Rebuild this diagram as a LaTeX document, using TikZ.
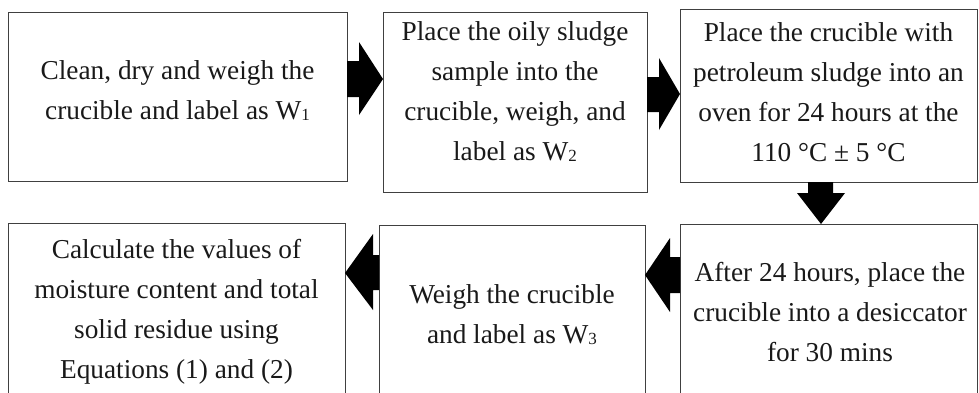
\documentclass[tikz,border=0pt]{standalone}
\usepackage{fontspec}
\setmainfont{Liberation Serif}
\usetikzlibrary{calc}
\tikzset{
  box/.style={draw=black!75, line width=1pt, inner sep=0pt, outer sep=0pt, fill=white},
  txt/.style={align=center, inner sep=0pt, font=\fontsize{27.3}{40}\selectfont, text=black!90},
  blockarrow/.style={fill=black}
}
\newcommand{\subdig}[1]{{\fontsize{17}{17}\selectfont\raisebox{-1pt}{#1}}}
\begin{document}
\begin{tikzpicture}[x=1pt,y=-1pt]
\useasboundingbox (0,0) rectangle (979,392);
\begin{scope}
\clip (0,0) rectangle (979,392);
% boxes
\node[box, minimum width=339pt, minimum height=169pt] (b1) at (177.5,96.5) {};
\node[box, minimum width=264pt, minimum height=180pt] (b2) at (515,102) {};
\node[box, minimum width=297pt, minimum height=173pt] (b3) at (828.5,95.5) {};
\node[box, minimum width=297pt, minimum height=175pt] (b4) at (828.5,311.5) {};
\node[box, minimum width=266pt, minimum height=174pt] (b5) at (512,312) {};
\node[box, minimum width=337pt, minimum height=176pt] (b6) at (176.5,311) {};
% texts
\node[txt] (t1) at (177.5,91) {Clean, dry and weigh the\\crucible and label as W\subdig{1}};
\node[txt] (t2) at (515,92) {Place the oily sludge\\sample into the\\crucible, weigh, and\\label as W\subdig{2}};
\node[txt] (t3) at (828.5,92) {Place the crucible with\\petroleum sludge into an\\oven for 24 hours at the\\110 °C ± 5 °C};
\node[txt] (t4) at (830,312) {After 24 hours, place the\\crucible into a desiccator\\for 30 mins};
\node[txt] (t5) at (512,315) {Weigh the crucible\\and label as W\subdig{3}};
\node[txt] (t6) at (176.5,312) {Calculate the values of\\moisture content and total\\solid residue using\\Equations (1) and (2)};
% block arrows
\fill[blockarrow] (b1.east|-0,61) -- (359,61) -- (359,42) -- (b2.west|-0,79) -- (359,115) -- (359,97) -- (b1.east|-0,97) -- cycle;
\fill[blockarrow] (b2.east|-0,77) -- (659,77) -- (659,58) -- (b3.west|-0,94) -- (659,130) -- (659,112) -- (b2.east|-0,112) -- cycle;
\fill[blockarrow] (808,0|-b3.south) -- (808,193) -- (797,193) -- (821,0|-b4.north) -- (845,193) -- (833,193) -- (833,0|-b3.south) -- cycle;
\fill[blockarrow] (b4.west|-0,257) -- (670,257) -- (670,238) -- (b5.east|-0,275) -- (670,312) -- (670,293) -- (b4.west|-0,293) -- cycle;
\fill[blockarrow] (b5.west|-0,255) -- (373,255) -- (373,234) -- (b6.east|-0,273) -- (373,310) -- (373,290) -- (b5.west|-0,290) -- cycle;
\end{scope}
\end{tikzpicture}
\end{document}
